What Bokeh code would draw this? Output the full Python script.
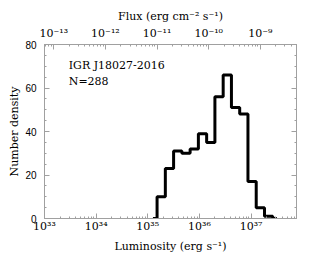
import numpy as np
from bokeh.plotting import figure
from bokeh.models import (Range1d, LinearAxis, FixedTicker, Label)
from bokeh.embed import file_html
from bokeh.resources import INLINE

# ---- data ----
log_lum_centers = [35.10, 35.26, 35.42, 35.58, 35.74, 35.90, 36.06, 36.22,
                   36.38, 36.54, 36.70, 36.86, 37.02, 37.18, 37.34, 37.50]
number_density = [0, 10, 23, 31, 30, 32, 39, 35, 56, 66, 51, 48, 17, 5, 1, 0]

lum_decades = [33, 34, 35, 36, 37]
flux_decades = [-13, -12, -11, -10, -9]
y_major = [0, 20, 40, 60, 80]
source_name = "IGR J18027-2016"
n_label = "N=288"

flux_offset = 46.18   # log L = log F + offset
x_lo, x_hi = 33.0, 37.88

SUP = str.maketrans("-0123456789", "⁻⁰¹²³⁴⁵⁶⁷⁸⁹")
def pow10(e):
    return "10" + str(e).translate(SUP)

def log_minors(decades, lo, hi):
    out = []
    for d in range(min(decades) - 1, max(decades) + 1):
        for k in range(2, 10):
            v = d + np.log10(k)
            if lo <= v <= hi:
                out.append(float(v))
    return out

SERIF = "DejaVu Serif"
AX = "#a0a0a0"

p = figure(width=331, height=262, output_backend="svg", toolbar_location=None,
           x_range=Range1d(x_lo, x_hi), y_range=Range1d(0, 80),
           min_border_left=44, min_border_right=35, min_border_top=44,
           min_border_bottom=44, x_axis_location=None, y_axis_location=None)
p.grid.visible = False
p.outline_line_color = AX
p.background_fill_color = "white"
p.border_fill_color = "white"

p.extra_x_ranges = {"flux": Range1d(x_lo - flux_offset, x_hi - flux_offset)}

def style(ax):
    ax.axis_line_color = AX
    ax.major_tick_line_color = AX
    ax.minor_tick_line_color = AX
    ax.major_tick_in = 5
    ax.major_tick_out = 0
    ax.minor_tick_in = 2
    ax.minor_tick_out = 0
    ax.major_label_text_font = SERIF
    ax.major_label_text_font_size = "11px"
    ax.major_label_text_color = "black"
    ax.axis_label_text_font = SERIF
    ax.axis_label_text_font_size = "11px"
    ax.axis_label_text_font_style = "normal"
    ax.axis_label_text_color = "black"

# bottom: luminosity
xb = LinearAxis(ticker=FixedTicker(ticks=lum_decades,
                                   minor_ticks=log_minors(lum_decades, x_lo, x_hi)),
                axis_label="Luminosity (erg s⁻¹)")
xb.major_label_overrides = {d: pow10(d) for d in lum_decades}
style(xb)
xb.major_label_standoff = 1
xb.axis_label_standoff = 4
p.add_layout(xb, "below")

# top: flux
fl_lo, fl_hi = x_lo - flux_offset, x_hi - flux_offset
xt = LinearAxis(x_range_name="flux",
                ticker=FixedTicker(ticks=flux_decades,
                                   minor_ticks=log_minors(flux_decades, fl_lo, fl_hi)),
                axis_label="Flux (erg cm⁻² s⁻¹)")
xt.major_label_overrides = {d: pow10(d) for d in flux_decades}
style(xt)
xt.major_label_standoff = 5
xt.axis_label_standoff = 1
p.add_layout(xt, "above")

# left
yl = LinearAxis(ticker=FixedTicker(ticks=y_major, minor_ticks=list(range(0, 81, 5))),
                axis_label="Number density")
style(yl)
yl.major_label_text_font = "Liberation Sans"
yl.major_label_text_font_size = "10px"
yl.major_label_standoff = 8
yl.axis_label_standoff = 1
p.add_layout(yl, "left")

# right (ticks only)
yr = LinearAxis(ticker=FixedTicker(ticks=y_major, minor_ticks=list(range(0, 81, 5))))
style(yr)
yr.major_label_overrides = {v: "" for v in y_major}
yr.major_label_standoff = 0
p.add_layout(yr, "right")

p.step(x=log_lum_centers, y=number_density, mode="center",
       line_color="black", line_width=3)

p.add_layout(Label(x=33.47, y=70.5, text=source_name, text_font=SERIF,
                   text_font_size="11px", text_baseline="middle", text_color="black"))
p.add_layout(Label(x=33.47, y=63, text=n_label, text_font=SERIF,
                   text_font_size="11px", text_baseline="middle", text_color="black"))

open("out.html", "w").write(file_html(p, INLINE))
